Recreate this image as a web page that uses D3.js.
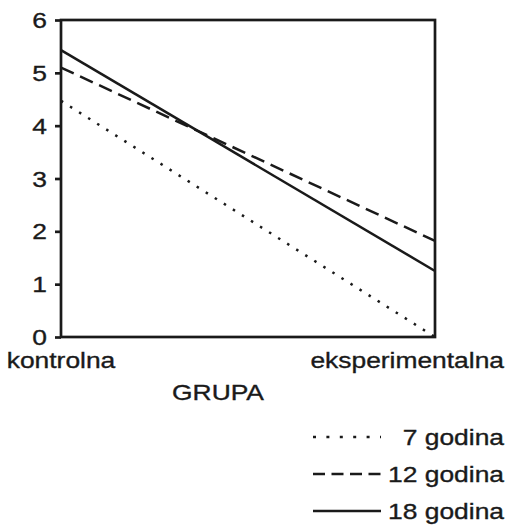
<!DOCTYPE html>
<html><head><meta charset="utf-8">
<script src="https://cdn.jsdelivr.net/npm/d3@7"></script>
<style>body{margin:0;background:#fff}text{font-family:"Liberation Sans",Arial,sans-serif;fill:#1a1a1a;stroke:#1a1a1a;stroke-width:0.35px}</style>
</head><body>
<svg id="c" width="508" height="525"></svg>
<script>
const categories = ["kontrolna", "eksperimentalna"];
const seriesNames = ["7 godina", "12 godina", "18 godina"];
const values7 = [4.47, 0.0];
const values12 = [5.1, 1.82];
const values18 = [5.43, 1.25];
const yTicks = [0, 1, 2, 3, 4, 5, 6];
const axisTitle = "GRUPA";

const series = [
  {name: seriesNames[0], values: values7, dash: "2.5,8.2", ldash: "3,10.4"},
  {name: seriesNames[1], values: values12, dash: "14,7", ldash: "12,6.5"},
  {name: seriesNames[2], values: values18, dash: null, ldash: null}
];
const SX = 1.2, FS = 22, ink = "#1a1a1a";
const svg = d3.select("#c");
const x = d3.scalePoint().domain(categories).range([61, 435]);
const y = d3.scaleLinear().domain([0, 6]).range([337, 20]);

function label(g, tx, ty, str, anchor) {
  return g.append("text").attr("transform", `translate(${tx},${ty}) scale(${SX},1)`)
    .attr("text-anchor", anchor).attr("font-size", FS).text(str);
}

// series lines
const line = d3.line().x((d, i) => x(categories[i])).y(d => y(d));
series.forEach(s => {
  svg.append("path").datum(s.values).attr("d", line).attr("fill", "none")
    .attr("stroke", ink).attr("stroke-width", 2.5)
    .attr("stroke-dasharray", s.dash);
});

// frame
svg.append("rect").attr("x", x.range()[0]).attr("y", y(6)).attr("width", x.range()[1] - x.range()[0])
  .attr("height", y(0) - y(6)).attr("fill", "none").attr("stroke", ink).attr("stroke-width", 2.7);

// y axis ticks
const yAxis = d3.axisLeft(y).tickValues(yTicks).tickSize(6).tickFormat(d3.format("d"));
const ga = svg.append("g").attr("transform", `translate(${x.range()[0]},0)`).call(yAxis);
ga.select(".domain").remove();
ga.selectAll(".tick line").attr("stroke", ink).attr("stroke-width", 2.7);
ga.selectAll(".tick text").remove();
yTicks.forEach(t => label(svg, 47, y(t) + 8, String(t), "end"));

// x labels
label(svg, x(categories[0]), 368, categories[0], "middle");
label(svg, 504, 368, categories[1], "end");
label(svg, 218, 400, axisTitle, "middle");

// legend
const ly = [437, 474, 511];
series.forEach((s, i) => {
  svg.append("line").attr("x1", 313).attr("x2", i === 1 ? 385 : 381).attr("y1", ly[i]).attr("y2", ly[i])
    .attr("stroke", ink).attr("stroke-width", 2.5).attr("stroke-dasharray", s.ldash);
  label(svg, 504, ly[i] + 8, s.name, "end");
});
</script>
</body></html>
